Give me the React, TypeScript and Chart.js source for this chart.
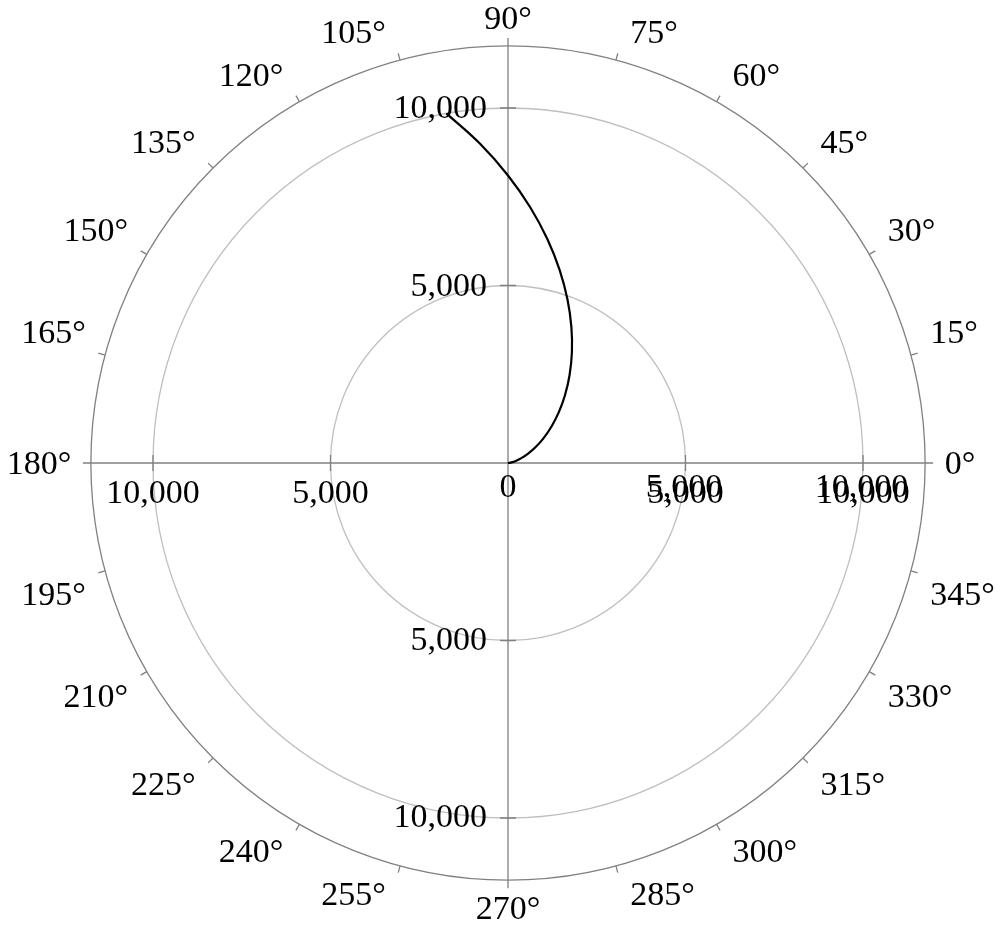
import React, { useEffect, useRef } from "react";
import { Chart, registerables } from "chart.js";

Chart.register(...registerables);

// Curve: angle (degrees) and radius
const curveAnglesDeg = [0, 5, 10, 15, 20, 25, 30, 35, 40, 45, 50, 55, 60, 65, 70, 75, 80, 85, 90, 95, 100];
const curveRadii = [0, 25, 100, 225, 400, 625, 900, 1225, 1600, 2025, 2500, 3025, 3600, 4225, 4900, 5625, 6400, 7225, 8100, 9025, 10000];

// Radial axis
const radialTicks = [5000, 10000];
const radialTickLabels = ["5,000", "10,000"];
const outerRadius = 11750;

// Angular axis
const angularTicks = [0, 15, 30, 45, 60, 75, 90, 105, 120, 135, 150, 165, 180, 195, 210, 225, 240, 255, 270, 285, 300, 315, 330, 345];
const angularTickLabels = ["0°", "15°", "30°", "45°", "60°", "75°", "90°", "105°", "120°", "135°", "150°", "165°", "180°", "195°", "210°", "225°", "240°", "255°", "270°", "285°", "300°", "315°", "330°", "345°"];

const FONT = '34px "Liberation Serif"';
const AXIS_COLOR = "#808080";
const GRID_COLOR = "#bfbfbf";

const W = 1001;
const H = 929;
const CX = 508;
const CY = 463;
const PX_PER_10K = 355;

const xMin = (-CX / PX_PER_10K) * 10000;
const xMax = ((W - CX) / PX_PER_10K) * 10000;
const yMax = (CY / PX_PER_10K) * 10000;
const yMin = (-(H - CY) / PX_PER_10K) * 10000;

const polarFrame = {
  id: "polarFrame",
  beforeDatasetsDraw(chart: any) {
    const ctx = chart.ctx as CanvasRenderingContext2D;
    const xs = chart.scales.x;
    const ys = chart.scales.y;
    const cx = xs.getPixelForValue(0);
    const cy = ys.getPixelForValue(0);
    const R = xs.getPixelForValue(outerRadius) - cx;
    ctx.save();
    ctx.lineWidth = 1.3;
    // grid circles
    ctx.strokeStyle = GRID_COLOR;
    radialTicks.forEach((v) => {
      const r = xs.getPixelForValue(v) - cx;
      ctx.beginPath();
      ctx.arc(cx, cy, r, 0, Math.PI * 2);
      ctx.stroke();
    });
    // axis lines
    ctx.strokeStyle = AXIS_COLOR;
    ctx.beginPath();
    ctx.moveTo(cx - R - 8, cy);
    ctx.lineTo(cx + R + 8, cy);
    ctx.moveTo(cx, cy - R - 8);
    ctx.lineTo(cx, cy + R + 8);
    ctx.stroke();
    // radial ticks
    ctx.beginPath();
    radialTicks.forEach((v) => {
      const r = xs.getPixelForValue(v) - cx;
      const dirs = [
        [1, 0],
        [-1, 0],
        [0, 1],
        [0, -1],
      ];
      dirs.forEach(([dx, dy]) => {
        const px = cx + dx * r;
        const py = cy + dy * r;
        ctx.moveTo(px - dy * 8, py - dx * 8);
        ctx.lineTo(px + dy * 8, py + dx * 8);
      });
    });
    ctx.stroke();
    // outer circle
    ctx.beginPath();
    ctx.arc(cx, cy, R, 0, Math.PI * 2);
    ctx.stroke();
    // angular ticks
    ctx.beginPath();
    angularTicks.forEach((a) => {
      if (a % 90 === 0) return;
      const t = (a * Math.PI) / 180;
      const c = Math.cos(t);
      const s = Math.sin(t);
      ctx.moveTo(cx + c * R, cy - s * R);
      ctx.lineTo(cx + c * (R + 7), cy - s * (R + 7));
    });
    ctx.stroke();
    ctx.restore();
  },
  afterDatasetsDraw(chart: any) {
    const ctx = chart.ctx as CanvasRenderingContext2D;
    const xs = chart.scales.x;
    const ys = chart.scales.y;
    const cx = xs.getPixelForValue(0);
    const cy = ys.getPixelForValue(0);
    const R = xs.getPixelForValue(outerRadius) - cx;
    ctx.save();
    ctx.font = FONT;
    ctx.fillStyle = "#000000";
    ctx.textBaseline = "alphabetic";
    // angular labels
    angularTicks.forEach((a, i) => {
      const label = angularTickLabels[i];
      const t = (a * Math.PI) / 180;
      const c = Math.cos(t);
      const s = Math.sin(t);
      const sc = Math.abs(c) < 1e-6 ? 0 : Math.sign(c);
      const ss = Math.abs(s) < 1e-6 ? 0 : Math.sign(s);
      const px = cx + c * (R + 7);
      const py = cy - s * (R + 7);
      const m = ctx.measureText(label);
      const w = m.width;
      const asc = m.actualBoundingBoxAscent;
      const desc = m.actualBoundingBoxDescent;
      const h = asc + desc;
      const lx = px + sc * (w / 2 + 12.5);
      const ly = py - ss * (h / 2 + 10);
      ctx.textAlign = "center";
      ctx.fillText(label, lx, ly + (asc - desc) / 2);
    });
    // radial labels
    const dh = ctx.measureText("0").actualBoundingBoxAscent;
    radialTicks.forEach((v, i) => {
      const label = radialTickLabels[i];
      const r = xs.getPixelForValue(v) - cx;
      // vertical axis (up and down)
      ctx.textAlign = "right";
      ctx.fillText(label, cx - 21, cy - r + dh / 2 - 1);
      ctx.fillText(label, cx - 21, cy + r + dh / 2 - 2);
      // horizontal axis left
      ctx.textAlign = "center";
      ctx.fillText(label, cx - r, cy + 18 + dh);
      // horizontal axis right (two overlapping copies)
      ctx.fillText(label, cx + r - 1.5, cy + 12 + dh);
      ctx.fillText(label, cx + r, cy + 18 + dh);
    });
    ctx.textAlign = "center";
    ctx.fillText("0", cx, cy + 12 + dh);
    ctx.restore();
  },
};

export default function App() {
  const canvasRef = useRef<HTMLCanvasElement | null>(null);

  useEffect(() => {
    document.body.style.margin = "0";
    const canvas = canvasRef.current;
    if (!canvas) return;
    const points = curveAnglesDeg.map((a, i) => {
      const t = (a * Math.PI) / 180;
      return { x: curveRadii[i] * Math.cos(t), y: curveRadii[i] * Math.sin(t) };
    });
    const chart = new Chart(canvas, {
      type: "scatter",
      data: {
        datasets: [
          {
            data: points,
            showLine: true,
            borderColor: "#000000",
            borderWidth: 2.2,
            pointRadius: 0,
            tension: 0.4,
            fill: false,
          },
        ],
      },
      options: {
        animation: false,
        responsive: false,
        maintainAspectRatio: false,
        layout: { padding: 0 },
        plugins: {
          legend: { display: false },
          tooltip: { enabled: false },
        },
        scales: {
          x: { type: "linear", min: xMin, max: xMax, display: false },
          y: { type: "linear", min: yMin, max: yMax, display: false },
        },
      },
      plugins: [polarFrame],
    });
    return () => chart.destroy();
  }, []);

  return (
    <div style={{ position: "absolute", left: 0, top: 0, width: W, height: H, background: "#ffffff" }}>
      <canvas ref={canvasRef} width={W} height={H} style={{ width: W, height: H, display: "block" }} />
    </div>
  );
}
